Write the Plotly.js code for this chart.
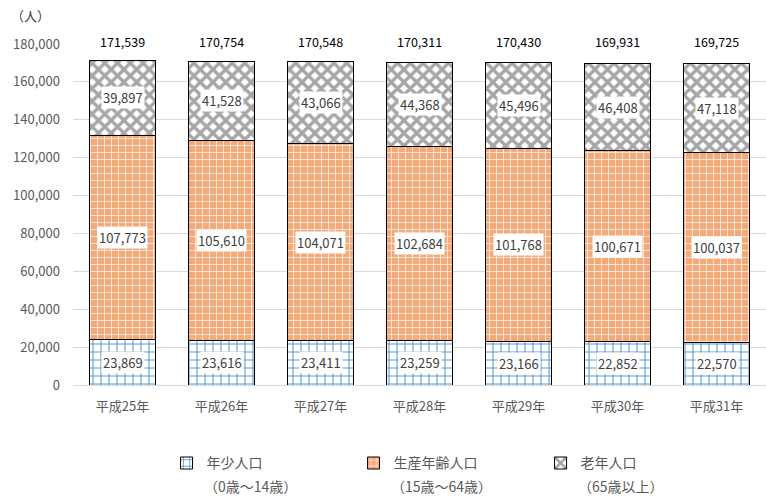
<!DOCTYPE html>
<html><head><meta charset="utf-8">
<script src="https://cdn.plot.ly/plotly-3.0.1.min.js"></script>
<style>body{margin:0;background:#fff}#c{width:766px;height:496px}</style>
</head><body><div id="c"></div>
<script>
const years = ["平成25年","平成26年","平成27年","平成28年","平成29年","平成30年","平成31年"];
const young = [23869,23616,23411,23259,23166,22852,22570];
const working = [107773,105610,104071,102684,101768,100671,100037];
const elderly = [39897,41528,43066,44368,45496,46408,47118];
const totals = [171539,170754,170548,170311,170430,169931,169725];
const names = ["年少人口","生産年齢人口","老年人口"];
const ageRanges = ["（0歳～14歳）","（15歳～64歳）","（65歳以上）"];

const F = '"Noto Sans CJK JP", "Noto Sans", sans-serif';
const fmt = v => v.toLocaleString('en-US');

const series = [young, working, elderly];
const patterns = [
  {shape:'+', fgcolor:'#5b9bd5', bgcolor:'#ffffff', size:8, solidity:0.25, fillmode:'replace'},
  {shape:'+', fgcolor:'#ffffff', bgcolor:'#f3aa78', size:7, solidity:0.18, fillmode:'replace'},
  {shape:'x', fgcolor:'#a6a6a6', bgcolor:'#ffffff', size:9, solidity:0.6, fillmode:'replace'}
];
const traces = series.map((s,i)=>({
  type:'bar', x:years, y:s, name:names[i],
  marker:{color:'#ffffff', pattern:patterns[i], line:{color:'#000000', width:1}},
  hoverinfo:'none'
}));

const ann = [];
years.forEach((yr,j)=>{
  let base = 0;
  series.forEach(s=>{
    ann.push({x:yr, y:base + s[j]/2, xref:'x', yref:'y', text:fmt(s[j]), showarrow:false,
      bgcolor:'#ffffff', font:{family:F, size:13, color:'#404040'}, borderpad:1});
    base += s[j];
  });
  ann.push({x:yr, y:1, xref:'x', yref:'paper', text:fmt(totals[j]), showarrow:false,
    yanchor:'middle', yshift:3, font:{family:F, size:12.5, color:'#000000'}});
});
ann.push({x:-0.062, y:1.085, xref:'paper', yref:'paper', xanchor:'center', yanchor:'middle',
  text:'（人）', showarrow:false, font:{family:F, size:13, color:'#404040'}});
const subX = [0.187, 0.457, 0.727];
ageRanges.forEach((t,i)=>{
  ann.push({x:subX[i], y:-0.297, xref:'paper', yref:'paper', xanchor:'left', yanchor:'middle',
    text:t, showarrow:false, borderpad:0, font:{family:F, size:14, color:'#595959'}});
});

const layout = {
  width:766, height:496,
  margin:{l:73, r:0, t:44, b:111, autoexpand:false},
  paper_bgcolor:'#ffffff', plot_bgcolor:'#ffffff',
  barmode:'stack', bargap:0.33,
  font:{family:F, color:'#595959', size:13},
  xaxis:{tickfont:{family:F, size:13, color:'#595959'}, showline:false, ticks:'', ticklabelstandoff:12, fixedrange:true},
  yaxis:{range:[0,180000], dtick:20000, tickformat:',d', gridcolor:'#d9d9d9', gridwidth:1,
    zeroline:true, zerolinecolor:'#d9d9d9', showline:false, ticks:'', ticklabelstandoff:12,
    tickfont:{family:F, size:13, color:'#595959'}},
  showlegend:true,
  legend:{orientation:'h', x:0.135, xanchor:'left', y:-0.183, yanchor:'top',
    font:{family:F, size:14, color:'#595959'}, entrywidth:142, traceorder:'normal', itemwidth:30},
  annotations:ann
};
Plotly.newPlot('c', traces, layout, {staticPlot:true, displayModeBar:false});
</script></body></html>
